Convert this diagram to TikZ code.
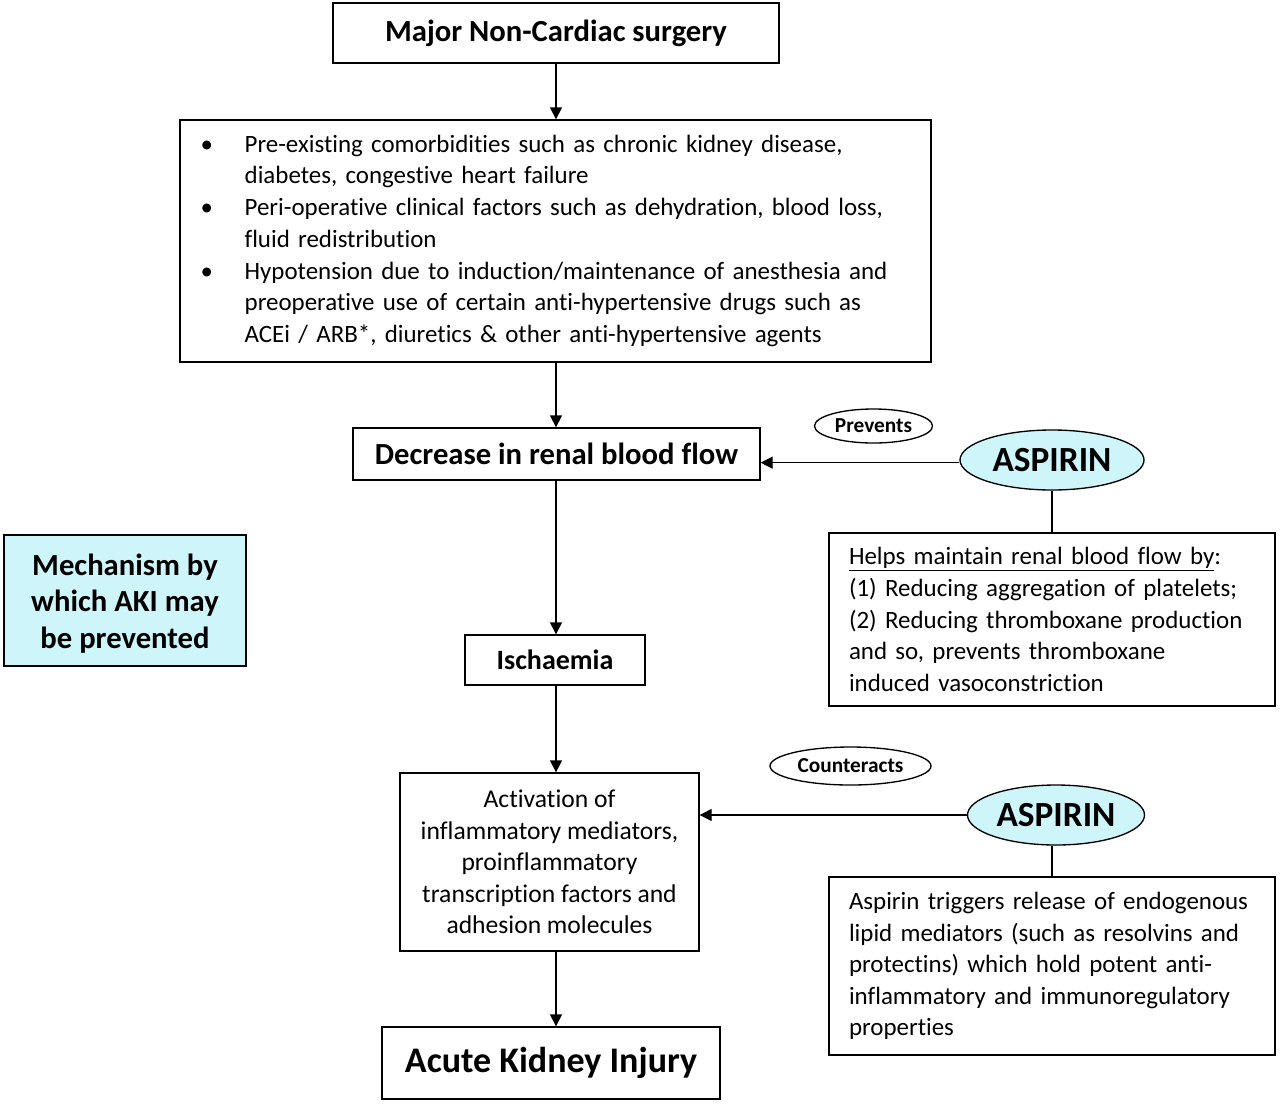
\documentclass[tikz,border=0pt]{standalone}
\usepackage{fontspec}
\setmainfont[Ligatures={NoCommon}]{Carlito}
\usetikzlibrary{arrows.meta,shapes.geometric}
\definecolor{lightcyan}{RGB}{206,245,250}
\tikzset{
  box/.style={draw=black, line width=1pt, rectangle, inner sep=0pt, align=center},
  oval/.style={draw=black, line width=1pt, ellipse, inner sep=0pt},
  arr/.style={line width=1pt, -{Triangle[length=9pt,width=9pt]}},
  link/.style={line width=1pt},
  body/.style={font=\fontsize{18.7}{23.7}\selectfont},
}
\begin{document}
\begin{tikzpicture}[x=0.75pt,y=-0.75pt]
\path[use as bounding box] (0,0) rectangle (1280,1103);

\node[box, minimum width=334.5pt, minimum height=45pt, font=\fontsize{23}{27}\selectfont\bfseries] (surg) at (556,33) {Major Non-Cardiac surgery};

\node[box, minimum width=563.25pt, minimum height=181.5pt, inner xsep=15.5pt, text width=532.25pt, align=left, font=\fontsize{18.7}{23.8}\selectfont] (factors) at (555.5,241) {%
\begin{tabular}{@{}p{33pt}@{}l@{}}
\textbullet & Pre-existing comorbidities such as chronic kidney disease,\\
 & diabetes, congestive heart failure\\
\textbullet & Peri-operative clinical factors such as dehydration, blood loss,\\
 & fluid redistribution\\
\textbullet & Hypotension due to induction/maintenance of anesthesia and\\
 & preoperative use of certain anti-hypertensive drugs such as\\
 & ACEi / ARB*, diuretics \& other anti-hypertensive agents
\end{tabular}};

\node[box, minimum width=305.25pt, minimum height=39pt, font=\fontsize{23}{27}\selectfont\bfseries] (rbf) at (556.5,454) {Decrease in renal blood flow};

\node[box, minimum width=135pt, minimum height=37.5pt, font=\fontsize{21}{25}\selectfont\bfseries] (isch) at (555,660) {Ischaemia};

\node[box, minimum width=224.25pt, minimum height=133.5pt, font=\fontsize{19.2}{23.7}\selectfont] (infl) at (549.5,862) {Activation of\\inflammatory mediators,\\proinflammatory\\transcription factors and\\adhesion molecules};

\node[box, minimum width=253.5pt, minimum height=54pt, font=\fontsize{27}{31}\selectfont\bfseries] (aki) at (551,1063) {Acute Kidney Injury};

\node[box, fill=lightcyan, minimum width=181.5pt, minimum height=98.25pt] (mech) at (125,600.5) {};
\node[align=center, inner sep=0pt, font=\fontsize{23}{27.5}\selectfont\bfseries] (mechtext) at (125,603.5) {Mechanism by\\which AKI may\\be prevented};

\node[oval, minimum width=88.5pt, minimum height=25.5pt, font=\fontsize{16}{19}\selectfont\bfseries] (prev) at (873.5,426) {Prevents};
\node[oval, fill=lightcyan, minimum width=138pt, minimum height=45pt, font=\fontsize{26.5}{31}\selectfont\bfseries] (asp1) at (1052,460) {ASPIRIN};

\node[box, minimum width=334.5pt, minimum height=129.75pt, text width=304.5pt, align=left, body] (help) at (1052,619.5) {\underline{Helps maintain renal blood flow by}:\\(1) Reducing aggregation of platelets;\\(2) Reducing thromboxane production\\and so, prevents thromboxane\\induced vasoconstriction};

\node[oval, minimum width=120.75pt, minimum height=28.5pt, font=\fontsize{16}{19}\selectfont\bfseries] (counter) at (850.5,766) {Counteracts};
\node[oval, fill=lightcyan, minimum width=132.75pt, minimum height=45pt, font=\fontsize{26.5}{31}\selectfont\bfseries] (asp2) at (1056,815) {ASPIRIN};

\node[box, minimum width=334.5pt, minimum height=133.5pt, text width=304.5pt, align=left, body] (lipid) at (1052,966) {Aspirin triggers release of endogenous\\lipid mediators (such as resolvins and\\protectins) which hold potent anti-\\inflammatory and immunoregulatory\\properties};

\draw[arr] (surg.south) -- (surg.south |- factors.north);
\draw[arr] (factors.south -| surg.south) -- (surg.south |- rbf.north);
\draw[arr] (rbf.south -| surg.south) -- (surg.south |- isch.north);
\draw[arr] (isch.south -| surg.south) -- (surg.south |- infl.north);
\draw[arr] (infl.south -| surg.south) -- (surg.south |- aki.north);
\draw[arr] ([yshift=-2pt]asp1.west) -- ([yshift=-2pt]asp1.west -| rbf.east);
\draw[arr] (asp2.west) -- (asp2.west -| infl.east);
\draw[link] (asp1.south) -- (asp1.south |- help.north);
\draw[link] (asp2.south -| help.north) -- (lipid.north);
\end{tikzpicture}
\end{document}
